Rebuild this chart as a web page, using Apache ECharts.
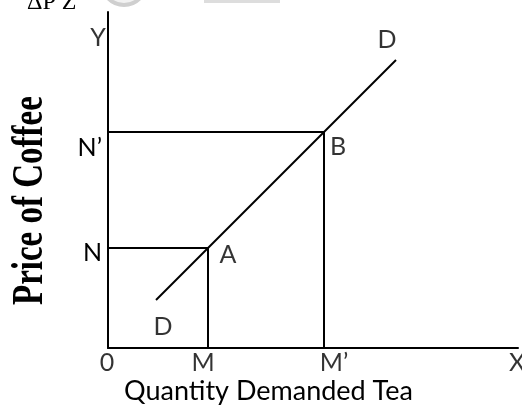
<!DOCTYPE html>
<html style="height: 100%">
<head>
    <meta charset="utf-8">
    <script src="https://cdn.jsdelivr.net/npm/echarts@6/dist/echarts.min.js"></script>
</head>
<body style="height: 100%; margin: 0; background: #fff">
    <div id="main" style="width:522px;height:411px;"></div>
    <script type="text/javascript">
    // 数据 (units along each axis)
    var xTicks = [0, 100, 216];          // 0, M, M'
    var yTicks = [100, 216];             // N, N'
    var xLabelNames = ['0', 'M', 'M\u2019', 'X'];
    var yLabelPos = [95, 200];
    var yLabelNames = ['N', 'N\u2019', 'Y'];
    var demandLine = [[48, 48], [288, 288]];
    var pointA = [100, 100];
    var pointB = [216, 216];
    var xMax = 410;
    var yMax = 336;

    var myChart = echarts.init(document.getElementById('main'));
    var font = 'Lato';

    function lbl(text, pos, dx, dy) {
        return {
            value: pos,
            label: { show: true, formatter: text, position: 'inside', offset: [dx, dy] }
        };
    }

    var option = {
        animation: false,
        grid: { left: 108, top: 12, width: xMax, height: yMax },
        xAxis: {
            type: 'value', min: 0, max: xMax,
            splitLine: { show: false },
            axisLine: { lineStyle: { color: '#000', width: 2 } },
            axisTick: { show: false },
            axisLabel: { show: false }
        },
        yAxis: {
            type: 'value', min: 0, max: yMax,
            splitLine: { show: false },
            axisLine: { lineStyle: { color: '#000', width: 2 } },
            axisTick: { show: false },
            axisLabel: {
                customValues: yLabelPos,
                formatter: function (v) { return yLabelNames[yLabelPos.indexOf(v)]; },
                color: '#000', fontFamily: font, fontSize: 25, margin: 6
            }
        },
        graphic: [
            {
                type: 'text', x: 9, y: 305, rotation: Math.PI / 2, scaleX: 0.75,
                style: { text: 'Price of Coffee', fill: '#000', font: 'bold 44px "Liberation Serif"',
                    textBaseline: 'top' }
            },
            {
                type: 'text', left: 124, top: 378,
                style: { text: 'Quantity Demanded Tea', fill: '#000', font: '27px Lato' }
            },
            {
                type: 'text', x: 27, y: -9,
                style: { text: '\u0394P Z', fill: '#000', font: '24px "Liberation Serif"' }
            },
            { type: 'circle', shape: { cx: 124, cy: -17, r: 22 },
                style: { fill: '#f2f2f2', stroke: '#cfcfcf', lineWidth: 4 } },
            { type: 'rect', shape: { x: 204, y: 0, width: 76, height: 3 }, style: { fill: '#ddd' } }
        ],
        series: [
            {
                type: 'line', symbol: 'none',
                data: [[0, yTicks[0]], pointA, [xTicks[1], 0]],
                lineStyle: { color: '#000', width: 2 }
            },
            {
                type: 'line', symbol: 'none',
                data: [[0, yTicks[1]], pointB, [xTicks[2], 0]],
                lineStyle: { color: '#000', width: 2 }
            },
            {
                type: 'line', symbol: 'none',
                data: demandLine,
                lineStyle: { color: '#000', width: 2 }
            },
            {
                type: 'scatter', symbolSize: 0, clip: false,
                label: { color: '#000', fontFamily: font, fontSize: 25 },
                data: [
                    lbl('A', pointA, 20, 7),
                    lbl('B', pointB, 14, 15),
                    lbl('D', demandLine[0], 7, 27),
                    lbl('D', demandLine[1], -9, -20),
                    lbl(xLabelNames[0], [xTicks[0], 0], -1, 15),
                    lbl(xLabelNames[1], [xTicks[1], 0], -5, 15),
                    lbl(xLabelNames[2], [xTicks[2], 0], 10, 15),
                    lbl(xLabelNames[3], [xMax, 0], -1, 15),
                    lbl(yLabelNames[2], [0, 310], -10, 0)
                ]
            }
        ]
    };

    myChart.setOption(option);
    </script>
</body>
</html>
